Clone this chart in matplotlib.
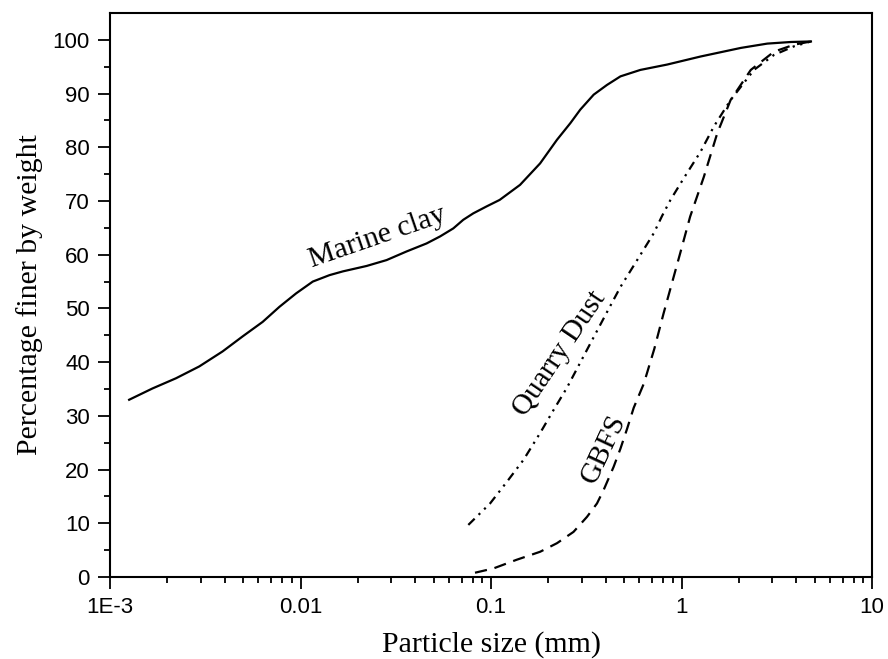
import matplotlib
matplotlib.use("Agg")
import matplotlib.pyplot as plt
import numpy as np

# Marine clay (solid)
clay_x = [0.00126, 0.00167, 0.00222, 0.00294, 0.0039, 0.00497, 0.00633, 0.00775, 0.00948,
          0.0116, 0.0142, 0.0167, 0.0222, 0.0283, 0.036, 0.0459, 0.054, 0.0634, 0.0715,
          0.0807, 0.0949, 0.111, 0.142, 0.181, 0.222, 0.261, 0.294, 0.346, 0.406, 0.478,
          0.608, 0.841, 1.26, 2.05, 2.82, 3.75, 4.78]
clay_y = [33.0, 35.1, 37.0, 39.2, 42.0, 44.8, 47.5, 50.3, 52.8,
          55.0, 56.2, 56.9, 57.9, 59.0, 60.6, 62.1, 63.4, 64.9, 66.5,
          67.7, 69.0, 70.2, 73.0, 77.0, 81.4, 84.5, 87.0, 89.8, 91.6, 93.2,
          94.4, 95.4, 96.9, 98.5, 99.3, 99.6, 99.7]

# Quarry Dust (dash-dot-dot)
qd_x = [0.076, 0.0989, 0.121, 0.148, 0.181, 0.213, 0.25, 0.319, 0.406, 0.478, 0.585,
        0.715, 0.79, 0.875, 1.03, 1.26, 1.48, 1.81, 2.4, 3.06, 3.9, 4.78]
qd_y = [9.7, 13.7, 17.7, 21.8, 26.8, 31.1, 35.2, 42.3, 49.3, 54.0, 59.0,
        64.0, 67.2, 70.2, 74.3, 79.2, 83.9, 88.8, 94.4, 97.2, 98.8, 99.7]

# GBFS (dashed)
gb_x = [0.0824, 0.103, 0.136, 0.181, 0.222, 0.271, 0.319, 0.36, 0.39, 0.44, 0.478,
        0.518, 0.561, 0.634, 0.72, 0.804, 0.988, 1.11, 1.31, 1.54, 1.81, 2.31, 3.06, 3.9, 4.78]
gb_y = [0.8, 1.6, 3.2, 4.7, 6.3, 8.4, 11.2, 13.7, 16.2, 20.5, 23.9,
        27.6, 31.5, 36.0, 42.5, 49.0, 60.5, 67.1, 74.5, 82.6, 88.8, 94.4, 97.8, 99.1, 99.7]

y_ticks = list(range(0, 101, 10))
x_ticks = [1e-3, 0.01, 0.1, 1, 10]
x_ticklabels = ["1E-3", "0.01", "0.1", "1", "10"]

serif = "Liberation Serif"
sans = "Liberation Sans"

fig = plt.figure(figsize=(8.88, 6.59), dpi=100)
ax = fig.add_axes([0.1239, 0.1244, 0.982 - 0.1239, 0.9803 - 0.1244])

kw = dict(color="black", lw=1.6, solid_joinstyle="round", dash_joinstyle="round")
ax.plot(clay_x, clay_y, ls="-", **kw)
ax.plot(qd_x, qd_y, ls=(0, (4, 2.5, 1, 2.5, 1, 2.5)), **kw)
ax.plot(gb_x, gb_y, ls=(0, (5.5, 3.5)), **kw)

ax.set_xscale("log")
ax.set_xlim(1e-3, 10)
ax.set_ylim(0, 105)
ax.set_xticks(x_ticks)
ax.set_xticklabels(x_ticklabels, fontfamily=sans, fontsize=16)
ax.set_yticks(y_ticks)
ax.set_yticklabels([str(v) for v in y_ticks], fontfamily=sans, fontsize=16)
ax.set_yticks(list(range(5, 100, 10)), minor=True)
ax.xaxis.set_minor_locator(matplotlib.ticker.LogLocator(base=10, subs=np.arange(2, 10)))
ax.xaxis.set_minor_formatter(matplotlib.ticker.NullFormatter())

ax.tick_params(which="major", direction="out", length=8.5, width=1.3, top=False, right=False, pad=6)
ax.tick_params(which="minor", direction="out", length=4.5, width=1.3, top=False, right=False)
for s in ax.spines.values():
    s.set_linewidth(1.5)

ax.set_xlabel("Particle size (mm)", fontfamily=serif, fontsize=21.5, labelpad=9)
ax.set_ylabel("Percentage finer by weight", fontfamily=serif, fontsize=21.5, labelpad=7)

ax.text(0.0254, 63.3, "Marine clay", fontfamily=serif, fontsize=21.5, rotation=19,
        ha="center", va="center")
ax.text(0.228, 41.5, "Quarry Dust", fontfamily=serif, fontsize=21, rotation=56,
        ha="center", va="center")
ax.text(0.39, 23.8, "GBFS", fontfamily=serif, fontsize=21, rotation=65,
        ha="center", va="center")

fig.savefig("out.png", dpi=100)
